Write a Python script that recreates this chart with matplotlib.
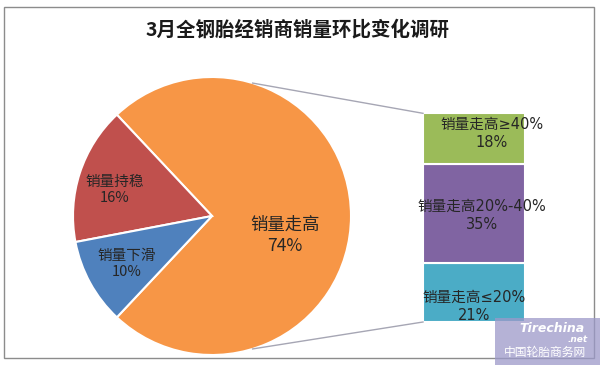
import numpy as np
import matplotlib
matplotlib.use("Agg")
import matplotlib.pyplot as plt
from matplotlib.patches import Rectangle

plt.rcParams['font.family'] = ['Noto Sans CJK SC', 'DejaVu Sans']

# data
title = "3月全钢胎经销商销量环比变化调研"
pie_labels = ["销量走高", "销量持稳", "销量下滑"]
pie_values = [74, 16, 10]
pie_colors = ["#F79646", "#C0504D", "#4F81BD"]

bar_labels = ["销量走高≤20%", "销量走高20%-40%", "销量走高≥40%"]
bar_values = [21, 35, 18]
bar_colors = ["#4BACC6", "#8064A2", "#9BBB59"]

W, H = 600, 365
fig = plt.figure(figsize=(6, 3.65), dpi=100)
ax = fig.add_axes([0, 0, 1, 1])

# pie (pixel coords, y up)
cx, cy, r = 212, 149, 139
start = -pie_values[0] / 100 * 360 / 2
ax.pie(pie_values, colors=pie_colors, startangle=start, counterclock=True,
       center=(cx, cy), radius=r,
       wedgeprops=dict(edgecolor="white", linewidth=1.5))

# stacked bar for the split of the big slice
bar_left, bar_w = 423, 102
bar_bottom, scale = 43, 2.82
bottoms = np.concatenate([[0], np.cumsum(bar_values)[:-1]])
ax.bar([bar_left + bar_w / 2] * 3, np.array(bar_values) * scale,
       bottom=bar_bottom + bottoms * scale, width=bar_w,
       color=bar_colors, edgecolor="white", linewidth=1.5)

# connector lines
bar_top = bar_bottom + sum(bar_values) * scale
for ang, yb in [(73, bar_top), (-73, bar_bottom)]:
    a = np.radians(ang)
    ax.plot([cx + r * np.cos(a), bar_left], [cy + r * np.sin(a), yb],
            color="#a6a6b4", lw=1)

# pie labels
pie_pos = [(cx + 73, cy - 19), (cx - 97, cy + 26), (cx - 85, cy - 48)]
pie_fs = [12.5, 10.5, 10.5]
for lab, v, (x, y), fs in zip(pie_labels, pie_values, pie_pos, pie_fs):
    ax.text(x, y, f"{lab}\n{v}%", ha="center", va="center", fontsize=fs,
            color="#262626", linespacing=1.25)

# bar labels (DejaVu first so that ≥ / ≤ get the plain glyphs)
bar_dx = [0, 8, 18]
bar_dy = [-14, -2, 5]
for i, (lab, v) in enumerate(zip(bar_labels, bar_values)):
    yc = bar_bottom + (bottoms[i] + v / 2) * scale + bar_dy[i]
    ax.text(bar_left + bar_w / 2 + bar_dx[i], yc, f"{lab}\n{v}%",
            ha="center", va="center", fontsize=10.5, color="#262626",
            linespacing=1.25, family=["DejaVu Sans", "Noto Sans CJK SC"])

ax.text(W / 2 - 2, H - 30, title, ha="center", va="center", fontsize=14,
        fontweight="bold", color="#1a1a1a")

# chart frame
ax.add_patch(Rectangle((4, 7), 590, 351, fill=False, edgecolor="#8c8c8c", lw=1))

# watermark
ax.add_patch(Rectangle((495, 0), 105, 47, color="#9c99c9", alpha=0.75, lw=0))
ax.text(552, 36, "Tirechina", ha="center", va="center", fontsize=9,
        style="italic", fontweight="bold", color="white", family="DejaVu Sans")
ax.text(578, 25, ".net", ha="center", va="center", fontsize=6.5,
        style="italic", fontweight="bold", color="white", family="DejaVu Sans")
ax.text(545, 13, "中国轮胎商务网", ha="center", va="center", fontsize=8.5,
        color="white")

ax.set_xlim(0, W)
ax.set_ylim(0, H)
ax.set_aspect("auto")
ax.axis("off")

fig.savefig("out.png", dpi=100)
